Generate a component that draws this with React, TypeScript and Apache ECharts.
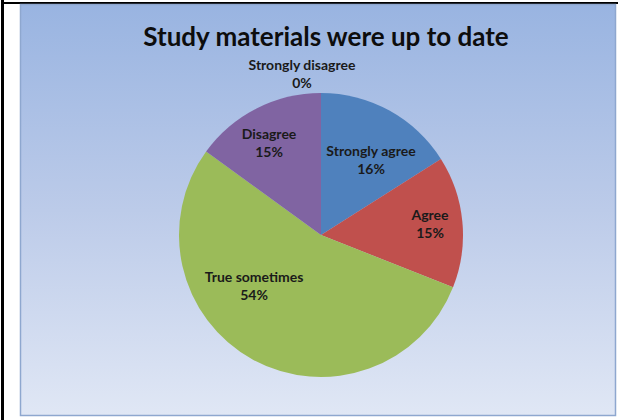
import React, { useEffect, useRef } from "react";
import * as echarts from "echarts";

const titleText = "Study materials were up to date";
const categories = ["Strongly agree", "Agree", "True sometimes", "Disagree", "Strongly disagree"];
const percents = [16, 15, 54, 15, 0];
const sliceColors = ["#4F81BD", "#C0504D", "#9BBB59", "#8064A2", "#F79646"];
// label anchor points (pixels) for each slice label
const labelSpots: [number, number][] = [
  [371, 159],
  [430, 223],
  [254, 285],
  [269, 142],
  [302, 73],
];

export default function App() {
  const ref = useRef<HTMLDivElement>(null);
  useEffect(() => {
    if (!ref.current) return;
    const chart = echarts.init(ref.current, undefined, { renderer: "svg" });
    chart.setOption({
      animation: false,
      backgroundColor: "#ffffff",
      graphic: [
        { type: "rect", shape: { x: 1, y: 0, width: 3, height: 420 }, style: { fill: "#000" }, z: 0 },
        { type: "rect", shape: { x: 1, y: 2, width: 617, height: 2 }, style: { fill: "#000" }, z: 0 },
        {
          type: "rect",
          shape: { x: 20.5, y: 4.5, width: 595, height: 411 },
          style: {
            fill: new echarts.graphic.LinearGradient(0, 0, 0, 1, [
              { offset: 0, color: "#99b4e1" },
              { offset: 0.5, color: "#bccbe9" },
              { offset: 1, color: "#e0e7f5" },
            ]),
            stroke: "#8ea7cf",
            lineWidth: 1.5,
          },
          z: 0,
        },
      ],
      title: {
        text: titleText,
        left: 321,
        top: 18,
        textAlign: "center",
        textStyle: { fontFamily: "Lato", fontWeight: "bold", fontSize: 26, color: "#0d0d0d" },
      },
      series: [
        {
          type: "pie",
          center: [321, 235],
          radius: 142,
          startAngle: 90,
          clockwise: true,
          avoidLabelOverlap: false,
          stillShowZeroSum: true,
          label: {
            show: true,
            position: "inside",
            formatter: (p: any) => `${p.name}\n${p.value}%`,
            fontFamily: "Lato",
            fontWeight: "bold",
            fontSize: 14,
            lineHeight: 18,
            color: "#1a1a1a",
            align: "center",
          },
          labelLine: { show: false },
          labelLayout: (p: any) => {
            const s = labelSpots[p.dataIndex];
            return { x: s[0], y: s[1], align: "center", verticalAlign: "middle" };
          },
          itemStyle: { borderWidth: 0 },
          emphasis: { disabled: true },
          data: categories.map((c, i) => ({
            name: c,
            value: percents[i],
            itemStyle: { color: sliceColors[i] },
          })),
        },
      ],
    });
    return () => chart.dispose();
  }, []);
  return (
    <div
      ref={ref}
      style={{ position: "fixed", left: 0, top: 0, width: 618, height: 420 }}
    />
  );
}
